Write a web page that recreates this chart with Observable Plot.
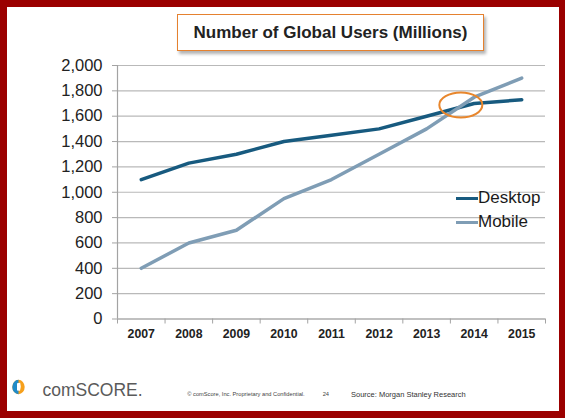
<!DOCTYPE html>
<html>
<head>
<meta charset="utf-8">
<script src="https://cdn.jsdelivr.net/npm/d3@7"></script>
<script src="https://cdn.jsdelivr.net/npm/@observablehq/plot@0.6"></script>
<style>
  html, body { margin: 0; padding: 0; }
  body { width: 565px; height: 418px; background: #9b0000; position: relative; overflow: hidden;
         font-family: "Liberation Sans", Arial, Helvetica, sans-serif; }
  #panel { position: absolute; left: 7px; top: 7px; width: 552px; height: 404px; background: #fff; }
  #title { position: absolute; left: 177px; top: 14px; width: 305px; height: 35px;
           border: 1.5px solid #e5812f; background: #fff; box-shadow: 2px 3px 3px rgba(0,0,0,0.3);
           display: flex; align-items: center; justify-content: center;
           font-weight: bold; font-size: 17px; color: #222; }
  #chart { position: absolute; left: 0; top: 0; }
  #legend { position: absolute; left: 456px; top: 186.3px; }
  .lg { display: flex; align-items: center; height: 24px; font-size: 17px; color: #1a1a1a; }
  .sw { width: 21.5px; height: 3.5px; margin-right: 0.5px; }
  #footer { position: absolute; left: 0; top: 370px; }
</style>
</head>
<body>
<div id="panel"></div>
<div id="title">Number of Global Users (Millions)</div>
<div id="chart"></div>
<div id="legend"></div>
<svg id="footer" width="565" height="48"></svg>
<script>
// ---- data ----
const years = [2007, 2008, 2009, 2010, 2011, 2012, 2013, 2014, 2015];
const desktop = [1100, 1230, 1300, 1400, 1450, 1500, 1600, 1700, 1730];
const mobile  = [400, 600, 700, 950, 1100, 1300, 1500, 1750, 1900];
const yTicks = [0, 200, 400, 600, 800, 1000, 1200, 1400, 1600, 1800, 2000];
const seriesNames = ["Desktop", "Mobile"];
const seriesColors = ["#175a7f", "#7f9db5"];
const highlight = { year: 2013.73, value: 1684 }; // crossover annotation
const titleText = "Number of Global Users (Millions)";
const brand = "comSCORE.";
const footnote = "\u00A9 comScore, Inc.  Proprietary and Confidential.";
const pageNo = "24";
const source = "Source: Morgan Stanley Research";

// ---- build ----
document.getElementById("title").textContent = titleText;
const rows = years.flatMap((yr, i) => [
  { year: yr, series: seriesNames[0], value: desktop[i] },
  { year: yr, series: seriesNames[1], value: mobile[i] }
]);
const bounds = [...years.map(y => y - 0.5), years[years.length - 1] + 0.5];
const font = '"Liberation Sans", Arial, Helvetica, sans-serif';

const chart = Plot.plot({
  width: 565, height: 360,
  marginLeft: 117, marginRight: 20, marginTop: 65, marginBottom: 41.5,
  style: { background: "transparent", fontFamily: font, overflow: "visible" },
  x: { domain: [bounds[0], bounds[bounds.length - 1]] },
  y: { domain: [0, 2000] },
  color: { domain: seriesNames, range: seriesColors },
  marks: [
    Plot.gridY(yTicks, { stroke: "#b9b9b9", strokeOpacity: 1, strokeWidth: 1.2 }),
    Plot.ruleX([bounds[0]], { stroke: "#a3a3a3", strokeWidth: 1.2 }),
    Plot.ruleY([0], { stroke: "#a3a3a3", strokeWidth: 1.2 }),
    Plot.axisY({ ticks: yTicks, tickFormat: d3.format(","), tickSize: 5, tickPadding: 10,
                 fontSize: 16.5, stroke: "#a3a3a3", fill: "#222", label: null }),
    Plot.axisX({ ticks: years, tickFormat: d => String(d), tickSize: 0, tickPadding: 10,
                 fontSize: 12.3, fontWeight: "bold", fill: "#222", label: null }),
    Plot.axisX({ ticks: bounds, tickFormat: () => "", tickSize: 5, tickPadding: 0,
                 stroke: "#a3a3a3", label: null }),
    Plot.line(rows, { x: "year", y: "value", z: "series", stroke: "series",
                      strokeWidth: 3.5, curve: "linear", strokeLinejoin: "round" })
  ]
});
document.getElementById("chart").appendChild(chart);

// crossover ellipse placed through the chart's scales
const sx = chart.scale("x"), sy = chart.scale("y");
d3.select(chart).append("ellipse")
  .attr("cx", sx.apply(highlight.year))
  .attr("cy", sy.apply(highlight.value))
  .attr("rx", 21.5).attr("ry", 12.5)
  .attr("fill", "none").attr("stroke", "#e8862c").attr("stroke-width", 2);

// legend
const legend = d3.select("#legend");
seriesNames.forEach((n, i) => {
  const row = legend.append("div").attr("class", "lg");
  row.append("div").attr("class", "sw").style("background", seriesColors[i]);
  row.append("span").text(n);
});

// footer
const f = d3.select("#footer");
f.append("ellipse").attr("cx", 18.5).attr("cy", 17).attr("rx", 6.2).attr("ry", 7.2).attr("fill", "#f6a01b");
f.append("path").attr("d", "M18.5,9.8 A6.2,7.2 0 0 0 18.5,24.2 Z").attr("fill", "#1f8bc9");
f.append("path").attr("d", "M17,13.2 L20.2,12.8 L20.8,16.8 L20,20.8 L17,20.6 Z").attr("fill", "#fff");
f.append("text").attr("x", 42.5).attr("y", 25.6).attr("font-family", font).attr("font-size", 17.5)
  .attr("fill", "#5a5a5a").text(brand);
f.append("text").attr("x", 187.3).attr("y", 26).attr("font-family", font).attr("font-size", 5.7)
  .attr("fill", "#444").text(footnote);
f.append("text").attr("x", 322.7).attr("y", 26).attr("font-family", font).attr("font-size", 5.7)
  .attr("fill", "#444").text(pageNo);
f.append("text").attr("x", 351).attr("y", 26.6).attr("font-family", font).attr("font-size", 7.5)
  .attr("fill", "#333").text(source);
</script>
</body>
</html>
